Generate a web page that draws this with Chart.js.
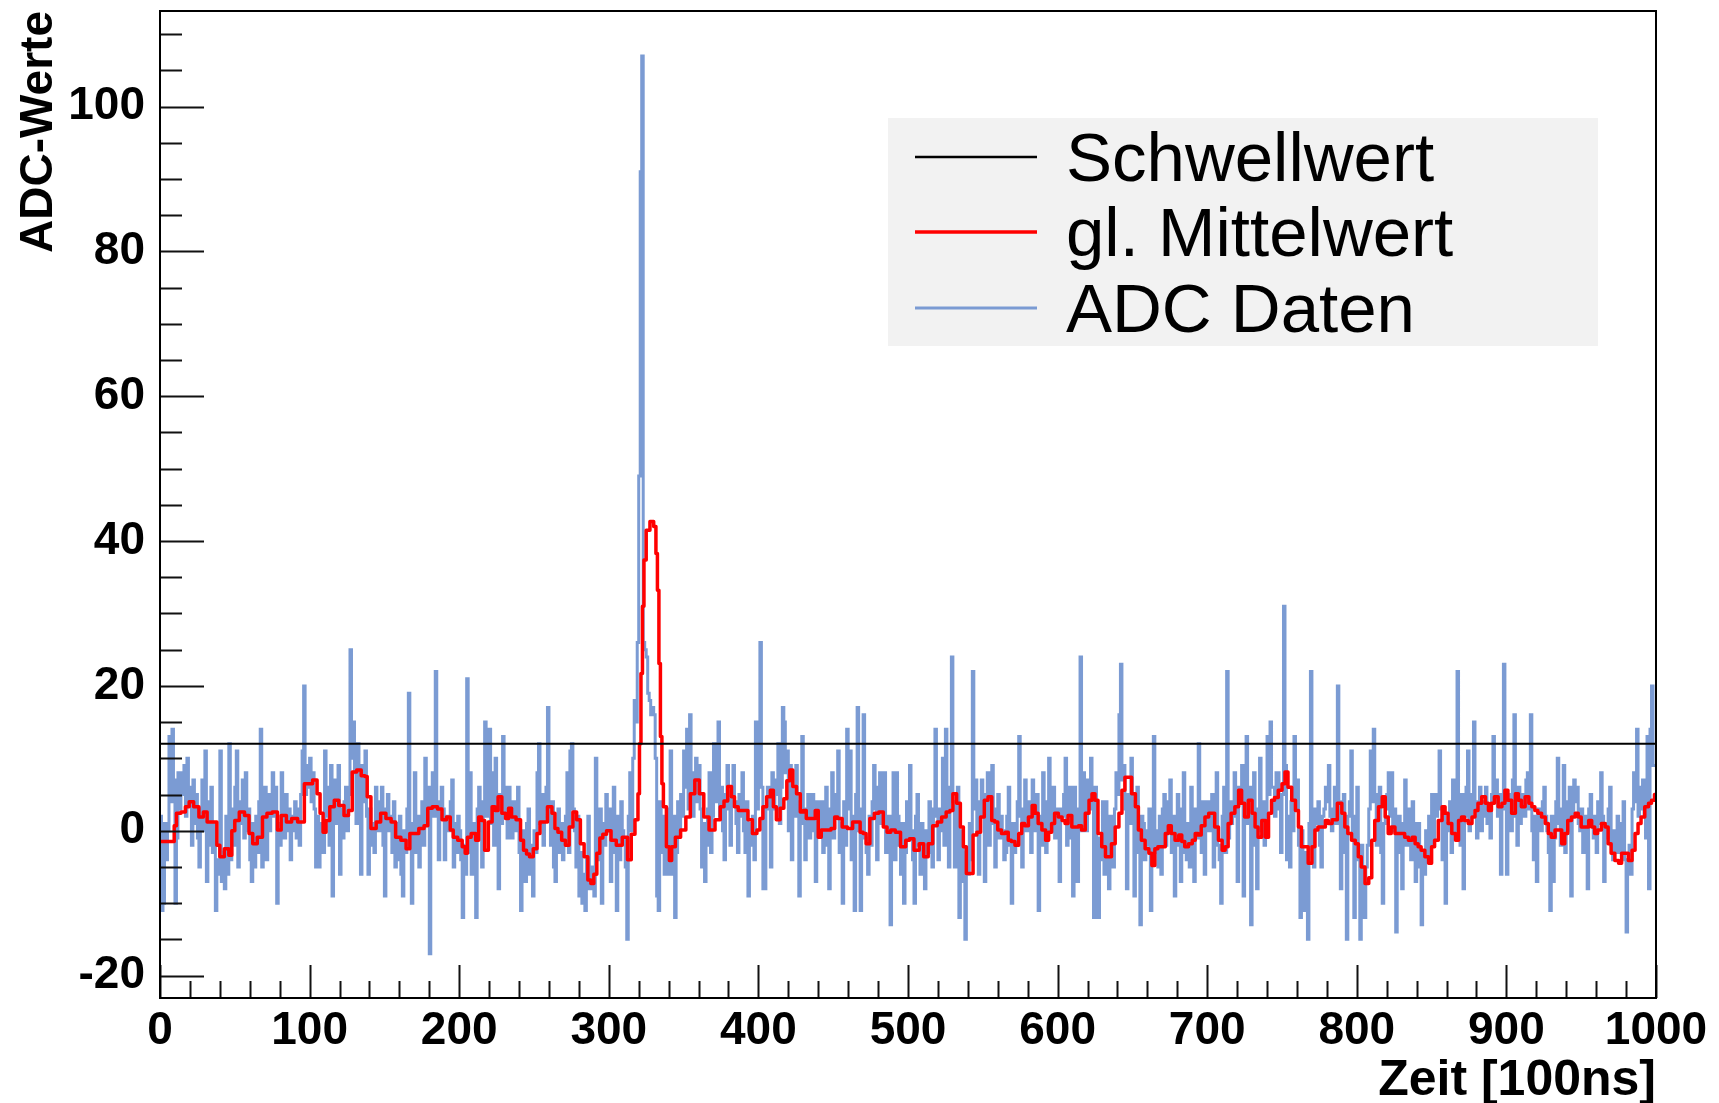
<!DOCTYPE html>
<html><head><meta charset="utf-8">
<script src="https://cdn.jsdelivr.net/npm/chart.js@4/dist/chart.umd.min.js"></script>
<style>html,body{margin:0;padding:0;background:#fff;}canvas{display:block;}</style>
</head><body>
<canvas id="c" width="1719" height="1103"></canvas>
<script>
// ADC samples, one per bin (bins 0..999)
const adcData = [
-9,2,-11,-10,1,-4,0,13,4,14,7,-10,-1,8,3,8,5,9,2,10,
4,6,-2,7,1,5,-1,-5,3,7,0,11,-7,4,-2,6,-3,1,-11,-4,
-6,11,-7,-3,-8,2,-6,12,-4,3,-2,6,11,-5,4,1,7,-1,8,0,
3,-4,-7,1,-5,2,-3,4,14,-5,3,6,-4,5,0,4,8,2,6,-10,
1,-2,8,3,-1,5,0,3,-4,2,0,4,-1,3,-2,5,11,20,5,9,
6,10,4,8,3,-5,2,-5,1,-1,-3,11,2,6,-2,9,-9,4,7,1,
9,-6,3,-1,4,6,0,5,25,10,15,8,1,12,5,-6,9,4,11,2,
-6,3,-2,1,-3,6,2,0,4,6,-2,-9,3,5,0,2,-3,4,-5,1,
-4,2,-6,-9,0,-3,3,19,-2,-10,1,8,-3,2,-5,1,4,-2,10,3,
6,-17,5,8,2,22,4,-4,3,6,3,-4,2,0,0,4,7,-5,1,-3,
2,0,-4,-12,-2,-6,21,-3,8,-6,1,-4,-12,3,6,0,-5,4,15,2,
7,14,1,8,-2,10,3,-8,5,1,13,2,6,-1,6,3,-1,4,0,2,
6,-3,-11,0,-4,-7,1,3,-6,-2,-9,0,-3,8,12,1,5,-2,3,6,
17,2,-2,4,-5,-7,0,3,-3,1,-4,-2,2,8,-3,11,12,3,0,-5,
2,-9,-3,-10,-6,-11,-4,2,-8,-7,-5,-9,10,-4,-1,3,-10,1,-2,5,
0,3,-7,1,6,-3,-11,2,-4,4,0,-1,-5,-15,2,8,0,10,18,15,
26,49,91,107,26,25,24,19,18,16,17,16,10,-9,-11,4,-3,2,-6,-2,
3,-6,11,-6,2,-12,-3,4,0,5,2,11,6,14,3,16,8,2,6,10,
4,9,3,-5,1,-7,-2,3,8,-3,2,12,4,11,15,2,6,0,-4,5,
9,3,-2,6,9,4,1,-3,5,2,8,0,-3,4,-9,1,-2,2,-4,15,
3,15,26,6,-8,-8,3,6,5,-5,8,3,7,5,12,1,6,17,15,8,
11,0,9,-4,6,2,9,3,-9,4,13,1,-4,3,5,-1,2,5,0,-7,
4,0,3,4,-3,1,6,-2,-8,3,8,-1,2,5,11,-3,1,-10,4,-2,
14,3,11,-4,2,-11,5,17,0,-11,3,16,-1,-3,-6,2,-2,4,9,3,
-4,6,8,1,4,8,-3,0,2,-13,1,8,-4,8,2,-2,-6,1,-10,-3,
4,-1,9,0,-4,-10,2,5,-2,-6,1,-4,-8,0,-3,4,1,-5,3,14,
2,-4,3,0,10,-2,14,3,-5,6,24,4,-5,2,6,-12,0,-2,-7,-15,
-3,-6,1,-4,22,3,7,0,-6,4,7,2,-7,5,8,-2,4,9,1,-5,
3,5,-1,2,0,-4,-3,2,6,-2,-10,1,-3,0,4,13,2,-5,3,7,
0,4,2,-3,7,3,0,5,-11,2,-2,8,1,-3,4,10,0,4,6,-1,
3,2,-7,3,2,5,10,-2,2,6,-1,-9,6,1,-7,3,24,0,8,4,
0,7,3,10,5,-12,6,-3,-12,-1,-4,4,-6,4,-2,-8,2,-1,-5,3,
8,5,16,23,7,9,3,-8,5,1,10,4,-9,2,6,-3,-13,2,1,-4,
0,-2,3,-11,-1,13,-3,0,-5,2,-6,3,5,-2,0,4,7,-3,2,-9,
1,5,-2,-7,3,8,-3,-4,1,-5,6,0,-7,3,-1,12,2,-3,4,-6,
3,4,0,2,5,-5,1,8,-2,-4,-10,2,6,-3,22,-1,4,1,3,8,
2,-7,6,5,9,-9,3,13,1,6,-13,2,8,-2,-8,3,10,0,4,-2,
1,13,5,15,6,6,2,8,8,3,-3,5,31,9,-4,2,-5,4,0,13,
3,7,-2,-12,0,-11,-3,-6,-15,1,22,-2,-5,3,1,4,-2,-5,2,3,
6,4,9,2,0,3,6,1,20,4,-8,2,5,-3,-15,2,4,11,0,-12,
2,6,-4,-15,-2,-6,-12,-5,-2,3,11,4,14,5,-2,3,6,-3,-10,1,
3,5,8,2,8,0,3,-14,-1,2,-3,-8,1,7,-2,3,0,-4,4,1,
-7,-2,1,-5,-13,-3,-6,0,-4,2,-2,5,-1,5,2,4,11,3,-4,2,
-10,1,0,4,-3,7,2,0,22,3,-2,5,-8,2,6,11,0,2,5,15,
3,-1,4,6,0,4,2,6,1,3,-1,5,13,4,7,2,5,-6,3,23,
4,-6,5,3,0,7,16,2,-2,6,1,4,5,2,7,8,3,16,0,-4,
2,-7,3,1,0,4,6,2,0,-3,-11,2,-7,-1,4,10,1,-2,3,9,
-3,0,4,6,-9,2,7,4,6,1,0,3,-3,2,-2,-8,3,5,1,-1,
2,-3,4,1,8,2,-7,1,-1,3,6,-2,-4,0,-3,2,-2,-3,1,4,
-4,-14,-5,-2,-6,3,8,4,14,2,6,3,7,2,-1,13,-8,14,20,9
];
// gliding mean as [time, value]
const meanPoints = [
[0,-1.5],[5,-1.5],[9,-1.5],[10,0.7],[12,2.4],[16,2.6],[18,3.3],[21,4.0],[24,3.3],[28,1.9],[30,2.6],[33,1.2],[37,1.2],[39,-2.0],[41,-3.6],[45,-2.5],[47,-3.4],[49,0.0],[51,1.4],[55,2.6],[58,2.1],[61,-0.4],[63,-1.8],[67,-0.9],[70,1.9],[73,2.4],[77,2.6],[80,0.1],[82,2.1],[87,1.2],[89,1.7],[95,1.2],[98,6.5],[100,6.5],[104,7.0],[106,5.1],[108,2.4],[110,-0.2],[112,1.4],[115,3.3],[118,4.2],[121,3.5],[125,2.1],[127,2.8],[130,8.1],[133,8.4],[136,7.6],[138,7.5],[139,4.7],[143,0.3],[146,1.2],[149,2.4],[153,1.7],[156,1.2],[159,-0.9],[163,-1.3],[166,-2.5],[168,-0.4],[171,-0.4],[175,0.3],[178,0.7],[180,3.1],[184,3.3],[187,3.0],[190,1.5],[193,1.9],[195,0.1],[197,-0.9],[201,-1.3],[203,-2.2],[205,-3.1],[206,-0.9],[210,-0.4],[212,-1.3],[214,1.9],[216,1.4],[218,-2.7],[221,1.2],[223,3.3],[225,2.8],[227,4.7],[230,2.4],[232,1.7],[234,3.1],[236,1.9],[240,1.5],[242,-1.3],[244,-2.7],[246,-3.2],[248,-3.6],[251,-2.5],[253,-0.4],[255,1.2],[257,1.2],[261,3.3],[263,2.4],[265,0.3],[267,-0.2],[270,-1.3],[272,-2.0],[275,0.5],[277,2.6],[280,1.5],[282,-1.8],[285,-3.6],[287,-6.8],[289,-7.3],[291,-6.0],[293,-3.1],[295,-1.0],[297,-0.5],[300,0.0],[303,-1.3],[307,-2.0],[311,-0.9],[314,-4.0],[316,-0.5],[319,1.5],[320,5.1],[321,12.0],[322,21.7],[323,31.0],[324,37.4],[326,41.5],[329,42.7],[331,42.0],[332,38.3],[333,33.2],[334,23.1],[335,13.0],[336,6.5],[337,3.3],[340,-2.2],[341,-4.1],[343,-2.2],[346,-0.9],[350,0.1],[353,1.9],[356,5.1],[359,7.0],[362,5.1],[365,1.9],[369,0.1],[373,1.5],[376,3.3],[378,4.1],[381,6.1],[383,4.7],[385,3.3],[388,2.8],[392,2.8],[394,1.5],[398,-0.4],[400,0.1],[402,1.7],[404,3.3],[407,4.7],[409,5.6],[411,3.3],[413,1.5],[416,3.1],[418,4.4],[420,6.9],[422,8.4],[424,6.1],[427,5.1],[429,2.6],[431,2.8],[433,1.7],[437,1.7],[439,2.8],[441,-0.9],[443,0.1],[447,0.1],[450,0.3],[452,1.9],[454,1.7],[458,0.5],[461,0.3],[465,1.2],[467,1.2],[469,-0.2],[471,-0.4],[473,-1.8],[476,1.7],[479,2.4],[482,2.6],[485,0.5],[487,-0.2],[490,0.1],[493,-0.2],[497,-2.2],[500,-1.3],[502,-1.1],[506,-2.7],[509,-1.8],[512,-3.6],[515,-1.8],[518,0.7],[521,1.2],[524,1.9],[527,2.6],[529,2.8],[531,5.1],[534,3.8],[536,0.5],[538,-2.2],[540,-5.9],[542,-5.9],[545,-0.6],[547,-0.2],[550,1.9],[552,4.2],[555,4.7],[557,1.4],[559,1.2],[561,0.1],[564,-0.4],[566,-0.2],[568,-1.3],[570,-1.5],[573,-2.0],[575,-0.4],[577,1.0],[579,0.7],[582,1.9],[584,3.5],[586,2.4],[588,1.0],[591,0.1],[593,-1.3],[595,-0.2],[597,1.0],[599,2.4],[602,1.9],[604,1.4],[606,1.0],[608,2.1],[611,0.5],[613,0.5],[615,0.7],[617,0.1],[620,2.4],[622,4.2],[624,5.1],[626,4.2],[628,-0.4],[631,-2.2],[633,-3.6],[635,-3.6],[637,-1.8],[640,0.5],[642,2.4],[644,5.6],[646,7.4],[648,7.4],[651,5.1],[653,3.3],[655,0.1],[657,-1.3],[660,-2.5],[662,-3.1],[664,-4.8],[666,-2.5],[668,-2.2],[671,-2.2],[673,-0.4],[675,0.7],[677,-0.4],[680,-1.3],[682,-0.6],[684,-1.5],[686,-2.2],[689,-1.8],[691,-1.3],[693,-0.4],[695,-0.6],[697,0.7],[700,1.9],[702,2.4],[704,2.4],[706,0.5],[709,-1.3],[711,-2.7],[713,-2.2],[715,1.0],[717,2.4],[720,3.3],[722,5.6],[724,3.8],[726,1.9],[729,4.2],[731,2.4],[733,0.5],[735,-0.9],[738,1.4],[740,-0.9],[742,2.4],[744,4.2],[746,4.6],[749,5.6],[751,6.5],[753,8.1],[755,6.0],[758,4.2],[760,2.8],[762,0.5],[764,-2.2],[766,-2.2],[769,-4.5],[771,-2.2],[773,0.1],[775,0.5],[778,0.5],[780,1.4],[782,1.0],[785,1.5],[789,3.8],[791,2.4],[793,0.5],[795,-0.4],[798,-1.3],[800,-1.8],[802,-3.6],[804,-5.0],[807,-7.3],[809,-6.5],[811,-1.3],[813,1.4],[816,3.3],[818,4.7],[820,1.9],[822,-0.4],[824,0.5],[827,-0.4],[831,-0.4],[833,-0.9],[836,-1.3],[838,-0.9],[840,-1.8],[842,-2.2],[844,-2.7],[847,-3.6],[849,-4.5],[851,-2.2],[853,-1.3],[856,1.4],[858,3.3],[860,2.4],[862,1.0],[865,-0.4],[867,-1.3],[869,1.4],[871,1.9],[873,1.4],[876,1.0],[878,1.9],[880,2.8],[882,3.8],[885,4.7],[887,3.8],[889,2.8],[891,3.8],[893,4.7],[896,3.3],[898,3.8],[900,5.6],[902,4.2],[905,2.4],[907,5.1],[909,4.2],[911,3.3],[914,4.7],[916,3.8],[918,3.3],[920,2.8],[922,2.4],[925,1.9],[927,1.0],[929,-0.4],[931,-0.9],[934,0.1],[936,0.1],[938,-1.8],[940,-0.4],[942,1.4],[945,1.9],[947,2.4],[949,1.9],[951,0.5],[954,0.5],[956,1.4],[958,0.5],[960,-0.4],[962,0.1],[965,1.0],[967,0.5],[969,-1.8],[971,-3.1],[974,-4.1],[976,-4.5],[978,-3.1],[980,-3.1],[983,-4.1],[985,-2.7],[987,-0.4],[989,1.0],[991,1.9],[994,3.3],[996,3.8],[998,4.2],[1000,5.0]
];
const thresholdValue = 12;
const xRange = [0, 1000];
const yRange = [-23.1, 113.2];
const xMajorStep = 100, xMinorStep = 20;
const yMajorStep = 20, yMinorStep = 5;
const legendLabels = ['Schwellwert', 'gl. Mittelwert', 'ADC Daten'];
const seriesColors = ['#000000', '#ff0000', '#7b9bd3'];
const xTitle = 'Zeit [100ns]';
const yTitle = 'ADC-Werte';

const FONT = "'Liberation Sans', Arial, Helvetica, sans-serif";
Chart.defaults.font.family = FONT;

const adcPoints = adcData.map((v, i) => ({x: i, y: v}));
adcPoints.push({x: adcData.length, y: adcData[adcData.length - 1]});
const meanXY = meanPoints.map(p => ({x: p[0], y: p[1]}));
const thrXY = [{x: xRange[0], y: thresholdValue}, {x: xRange[1], y: thresholdValue}];

const decor = {
  id: 'decor',
  afterDatasetsDraw(chart) {
    const {ctx, chartArea: a, scales} = chart;
    const xs = scales.x, ys = scales.y;
    ctx.save();
    // ticks (inside the frame)
    ctx.strokeStyle = '#111';
    ctx.lineWidth = 2;
    ctx.beginPath();
    for (let v = Math.ceil(yRange[0] / yMinorStep) * yMinorStep; v <= yRange[1]; v += yMinorStep) {
      const py = Math.round(ys.getPixelForValue(v)) + 0.5;
      const len = (v % yMajorStep === 0) ? 44 : 22;
      ctx.moveTo(a.left, py); ctx.lineTo(a.left + len, py);
    }
    for (let v = xRange[0]; v <= xRange[1]; v += xMinorStep) {
      const px = Math.round(xs.getPixelForValue(v)) + 0.5;
      const len = (v % xMajorStep === 0) ? 33 : 17;
      ctx.moveTo(px, a.bottom); ctx.lineTo(px, a.bottom - len);
    }
    ctx.stroke();
    // frame
    ctx.strokeStyle = '#000';
    ctx.lineWidth = 2;
    ctx.strokeRect(a.left, a.top, a.right - a.left, a.bottom - a.top);
    // axis titles
    ctx.fillStyle = '#000';
    ctx.textBaseline = 'alphabetic';
    ctx.textAlign = 'right';
    ctx.font = 'bold 50px ' + FONT;
    ctx.fillText(xTitle, a.right, 1095);
    ctx.save();
    ctx.font = 'bold 46px ' + FONT;
    ctx.translate(52, a.top);
    ctx.rotate(-Math.PI / 2);
    ctx.textAlign = 'right';
    ctx.fillText(yTitle, 0, 0);
    ctx.restore();
    // legend
    ctx.fillStyle = '#f2f2f2';
    ctx.fillRect(888, 118, 710, 228);
    const rows = [157, 232, 308];
    const widths = [2.5, 3.5, 3];
    legendLabels.forEach((lab, i) => {
      ctx.strokeStyle = seriesColors[i];
      ctx.lineWidth = widths[i];
      ctx.beginPath();
      ctx.moveTo(915, rows[i]); ctx.lineTo(1037, rows[i]);
      ctx.stroke();
      ctx.fillStyle = '#000';
      ctx.font = '69px ' + FONT;
      ctx.textAlign = 'left';
      ctx.textBaseline = 'alphabetic';
      ctx.fillText(lab, 1066, rows[i] + 24);
    });
    ctx.restore();
  }
};

new Chart(document.getElementById('c'), {
  type: 'line',
  data: {
    datasets: [
      {label: legendLabels[0], data: thrXY, borderColor: seriesColors[0], borderWidth: 2, pointRadius: 0, order: 1},
      {label: legendLabels[1], data: meanXY, borderColor: seriesColors[1], borderWidth: 3.5, pointRadius: 0, stepped: 'middle', borderJoinStyle: 'round', order: 2},
      {label: legendLabels[2], data: adcPoints, borderColor: seriesColors[2], borderWidth: 3, pointRadius: 0, stepped: 'after', order: 3}
    ]
  },
  options: {
    responsive: false,
    animation: false,
    events: [],
    layout: {padding: {left: 0, right: 63, top: 11, bottom: 0}},
    plugins: {legend: {display: false}, tooltip: {enabled: false}},
    scales: {
      x: {
        type: 'linear', min: xRange[0], max: xRange[1],
        grid: {display: false, drawTicks: false},
        border: {display: false},
        ticks: {stepSize: xMajorStep, color: '#000', font: {size: 46, weight: 'bold'}, padding: 6, maxRotation: 0, includeBounds: false,
                callback: v => String(v)},
        afterFit(s) { s.height = 105; s.paddingLeft = 0; s.paddingRight = 0; }
      },
      y: {
        type: 'linear', min: yRange[0], max: yRange[1],
        grid: {display: false, drawTicks: false},
        border: {display: false},
        ticks: {stepSize: yMajorStep, color: '#000', font: {size: 46, weight: 'bold'}, padding: 15, includeBounds: false,
                callback: v => String(v)},
        afterFit(s) { s.width = 160; s.paddingTop = 0; s.paddingBottom = 0; }
      }
    }
  },
  plugins: [decor]
});
</script>
</body></html>
